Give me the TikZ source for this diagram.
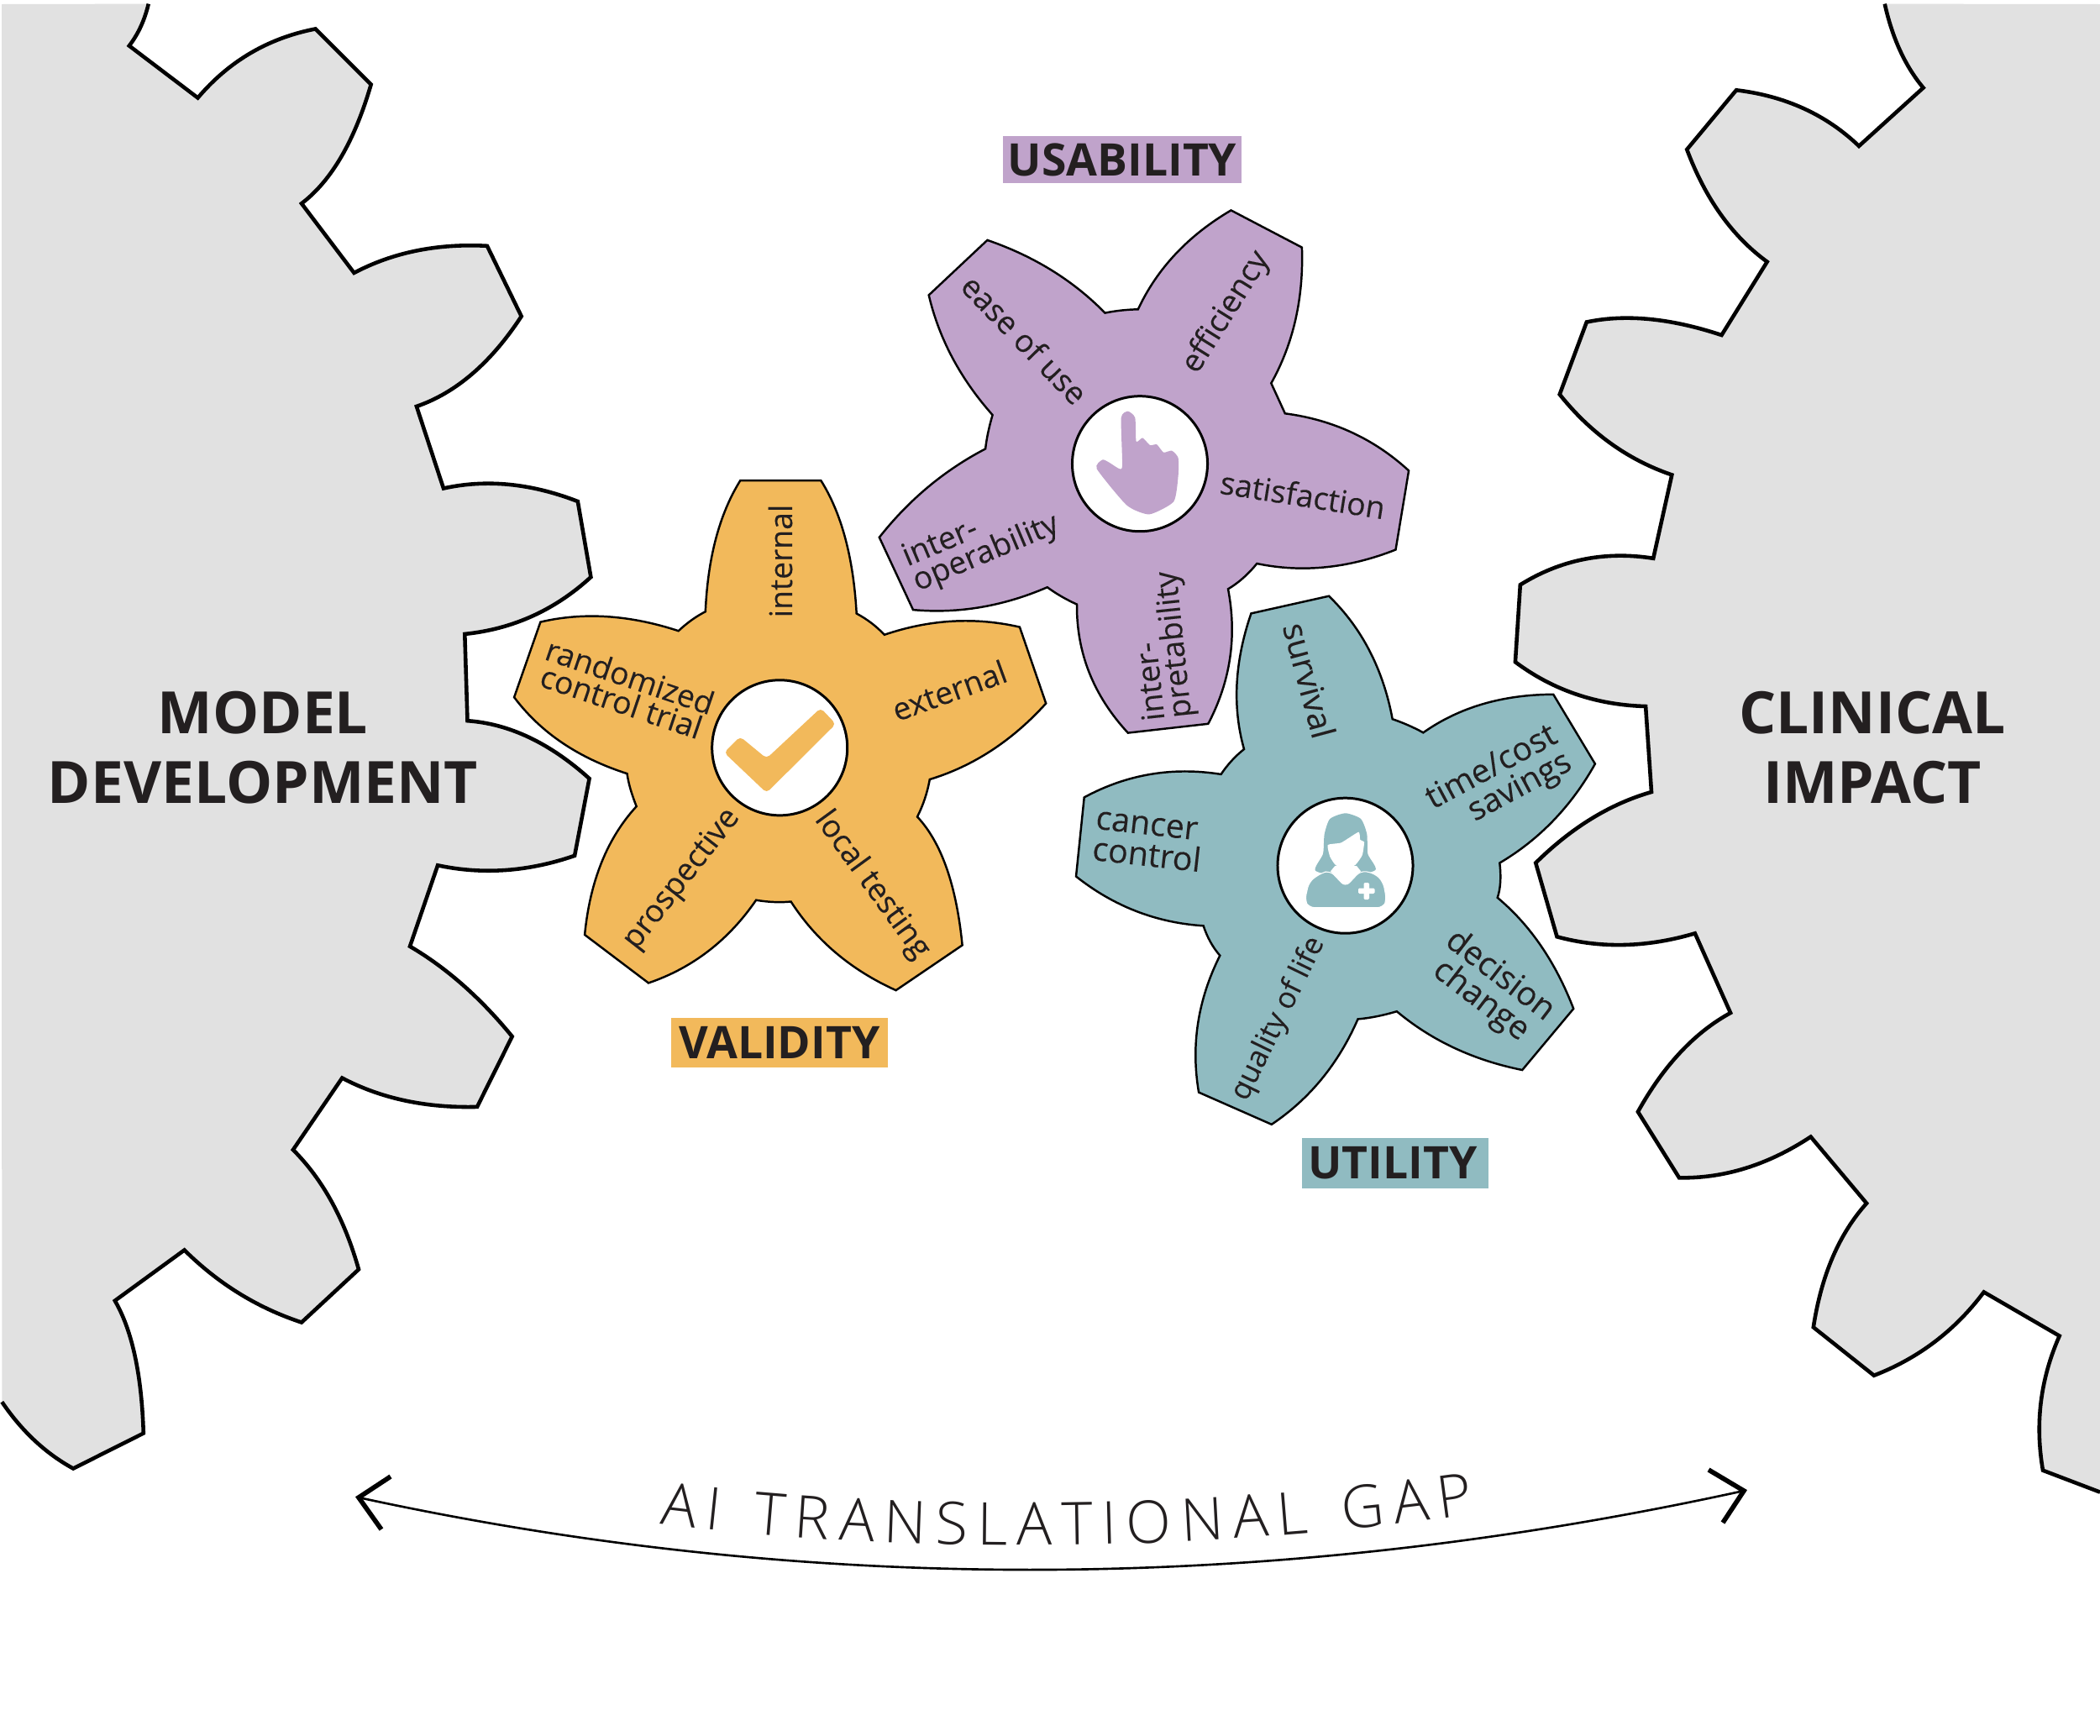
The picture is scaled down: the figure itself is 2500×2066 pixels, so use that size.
\documentclass[tikz,border=0pt]{standalone}
\usepackage{fontspec}
\setmainfont{Open Sans}
\newfontfamily\lightfont{Open Sans Light}
\newfontfamily\labfont{Open Sans}[FakeBold=0.12]
\usetikzlibrary{decorations.text,calc}
\definecolor{ink}{HTML}{231F20}
\definecolor{gearg}{HTML}{E1E1E1}
\definecolor{yel}{HTML}{F2B95B}
\definecolor{pur}{HTML}{C0A3CB}
\definecolor{tea}{HTML}{90BBC1}
\tikzset{
  vv/.style={to path={.. controls ($1.3333*(#1)-.3333*(\tikztotarget)$) and ($1.3333*(#1)-.3333*(\tikztostart)$) .. (\tikztotarget)}},
  bigline/.style={draw=black,line width=1.3pt,line join=miter,fill=none},
  smallgear/.style={draw=black,line width=.7pt,line join=miter},
  hub/.style={circle,draw=black,line width=.85pt,fill=white,minimum size=45.8pt,inner sep=0pt},
  lab/.style={text=ink,inner sep=0pt,align=center,font=\labfont\fontsize{10.6}{9.1}\selectfont},
  labl/.style={text=ink,inner sep=0pt,align=left,font=\labfont\fontsize{10.6}{9.1}\selectfont},
  tlab/.style={text=ink,inner sep=0pt,align=center,font=\labfont\fontsize{11.2}{10.6}\selectfont},
  tlabr/.style={text=ink,inner sep=0pt,align=right,font=\labfont\fontsize{11.1}{10.3}\selectfont},
  tag/.style={text=ink,inner sep=0pt,font=\bfseries\fontsize{15.2}{18}\selectfont},
  big/.style={text=ink,inner sep=0pt,align=center,font=\bfseries\fontsize{19.75}{23.6}\selectfont},
}
\begin{document}
\begin{tikzpicture}[x=0.01cm,y=-0.01cm]
\useasboundingbox (0,0) rectangle (2500,2066);
\fill[white] (0,0) rectangle (2500,2066);
% ---------- left big gear
\def\leftgear{(176.8,4.6) to[vv={167.6,31.6}] (153.8,54.5)
 -- (235.5,116.5) to[vv={298.4,63.1}] (375.6,34.4)
 -- (441.7,100.5) to[vv={406.3,186.6}] (359,242.3)
 -- (421.5,324.9) to[vv={495.9,298.5}] (579.9,292.8)
 -- (620.7,376.6) to[vv={562.4,444.9}] (495.9,483.9)
 -- (528,581.5) to[vv={606,576.9}] (687.8,597)
 -- (703.4,687.1) to[vv={633.6,733.6}] (553.3,754.9)
 -- (556.5,858.2) to[vv={630,878}] (701.6,927)
 -- (684.1,1018.8) to[vv={602,1036}] (521.1,1030.3)
 -- (488,1126.8) to[vv={551,1172.7}] (609.7,1234.1)
 -- (568,1317.9) to[vv={482,1310.4}] (407.3,1283.5)
 -- (348.9,1369) to[vv={394.9,1431}] (427,1511.4)
 -- (359,1574.5) to[vv={284.7,1540}] (219.5,1488.4)
 -- (136.8,1548.7) to[vv={160.7,1614.7}] (170.8,1706.5)
 -- (87.2,1748.5) to[vv={41.3,1715.2}] (2.3,1669.2)}
\fill[gearg] \leftgear -- (2,5) -- cycle;
\draw[bigline] \leftgear;
% ---------- right big gear
\def\rightgear{(2243.7,4.6) to[vv={2262,60.3}] (2289.6,104.5)
 -- (2213,173.9) to[vv={2147.3,129.2}] (2067,107.3)
 -- (2008.2,178) to[vv={2048.6,255.5}] (2103.7,311.7)
 -- (2049.5,399) to[vv={1963.7,380}] (1888.8,383.5)
 -- (1856.7,469.6) to[vv={1917.7,528.1}] (1990.3,565.4)
 -- (1968.2,664.8) to[vv={1885.6,665.9}] (1809.8,696.3)
 -- (1803.9,788.2) to[vv={1876.4,826.6}] (1959.1,841)
 -- (1966,943) to[vv={1894.8,974.6}] (1828.2,1027.4)
 -- (1853.5,1115.3) to[vv={1933.8,1125}] (2017.8,1111.3)
 -- (2060.1,1206) to[vv={2000.4,1253}] (1949.9,1323.7)
 -- (1999,1402.3) to[vv={2078.4,1390.8}] (2155.6,1353.5)
 -- (2222.1,1432.7) to[vv={2181.7,1497}] (2158.8,1580.3)
 -- (2230.9,1637.7) to[vv={2303.4,1597.5}] (2361.7,1538.4)
 -- (2451.7,1590.6) to[vv={2429.7,1669.2}] (2432,1750.7)
 -- (2500,1776.6)}
\fill[gearg] \rightgear -- (2500,5) -- cycle;
\draw[bigline] \rightgear;
% ---------- yellow gear
\draw[smallgear,fill=yel] (881.3,572.1) -- (977.3,572.1)
 to[vv={1006.3,641}] (1019.7,730.5)
 to[vv={1037.6,742}] (1052.8,755.8)
 to[vv={1133.6,739.7}] (1213.9,746.6)
 -- (1245.2,837.5) to[vv={1180.4,893.5}] (1106.8,928)
 to[vv={1101,950.9}] (1092,972.5)
 to[vv={1126.9,1033.6}] (1145.6,1125.4)
 -- (1066.6,1179.1) to[vv={995.2,1134.6}] (941.6,1073.5)
 to[vv={921.5,1074}] (900.1,1071.7)
 to[vv={843.4,1132.3}] (772,1170.4)
 -- (696.1,1113) to[vv={716.2,1026.7}] (757.7,960.1)
 to[vv={750.5,939.4}] (746.5,921.1)
 to[vv={669.3,884.4}] (612.1,830.2)
 -- (643.4,740.6) to[vv={722.9,734.2}] (807.7,751.2)
 to[vv={823.3,738.3}] (839.8,728.2)
 to[vv={852.3,641}] (881.3,572.1) -- cycle;
% ---------- purple gear
\draw[smallgear,fill=pur] (1465.5,250.4) -- (1549.9,294.6)
 to[vv={1542.3,380.4}] (1513.3,456.3)
 to[vv={1521.3,473.7}] (1529.8,492.3)
 to[vv={1609.3,514.9}] (1677.1,560.4)
 -- (1661.5,654.5) to[vv={1578,675.3}] (1496.3,671)
 to[vv={1479.8,688.3}] (1462,701.3)
 to[vv={1464.2,783.7}] (1438.3,861.8)
 -- (1342.8,872.6) to[vv={1296.8,801.1}] (1282,719.6)
 to[vv={1263.3,710}] (1246.8,699.2)
 to[vv={1167.3,723}] (1087,726.1)
 -- (1046.8,639.8) to[vv={1104.8,579.9}] (1173.1,534.4)
 to[vv={1176.3,514.9}] (1181.6,494.1)
 to[vv={1133.8,426}] (1105.7,351.4)
 -- (1175.4,285.9) to[vv={1252.1,321.9}] (1315.5,372.6)
 to[vv={1334.7,369.6}] (1354.8,368.3)
 to[vv={1399.5,302.4}] (1465.5,250.4) -- cycle;
% ---------- teal gear
\draw[smallgear,fill=tea] (1489.4,730.4) -- (1582,709.7)
 to[vv={1630.4,774.9}] (1657.7,856.2)
 to[vv={1676.7,863.6}] (1694.3,872.3)
 to[vv={1765.1,838.3}] (1849.2,826.8)
 -- (1898.9,909.5) to[vv={1849.2,977}] (1785.3,1027.5)
 to[vv={1786.1,1050.4}] (1782.7,1068.8)
 to[vv={1834.5,1126.2}] (1873.2,1201)
 -- (1812.2,1274) to[vv={1731.4,1247.8}] (1662.8,1204.2)
 to[vv={1638.8,1210.2}] (1616.5,1213.4)
 to[vv={1573.5,1284.6}] (1513.8,1338.8)
 -- (1427.1,1300.6) to[vv={1426.2,1218}] (1452.3,1137.7)
 to[vv={1441,1121.6}] (1432.6,1102.3)
 to[vv={1352.6,1084.9}] (1281,1043.5)
 -- (1290.7,949.4) to[vv={1369.4,921.9}] (1453.6,921.9)
 to[vv={1466.2,905.8}] (1481,892)
 to[vv={1472.5,814}] (1489.4,730.4) -- cycle;
% ---------- hubs
\node[hub] (hubv) at (928.2,890.3) {};
\node[hub] (hubu) at (1357,552.2) {};
\node[hub] (hubc) at (1601.5,1030.7) {};
% check mark
\fill[yel,rounded corners=1.4pt] (862,896) -- (881,877) -- (912.6,903) -- (977,843) -- (995,862) -- (912.6,944) -- cycle;
% hand
\fill[pur] plot[smooth cycle,tension=.35] coordinates {(1334.7,497.5)(1342.8,489.7)(1351.3,497.5)(1352.6,525.7)(1360.2,521.4)(1369.1,530.1)(1377.1,529.2)(1385.2,538.7)(1395,536.6)(1402.6,545.2)(1402.6,566.9)(1397.2,597.3)(1368.2,612.4)(1341.4,601.6)(1305.7,558.2)(1312.4,547.4)(1320,550.4)(1332.5,558.2)(1336.1,553.9)};
% doctor
\fill[tea] plot[smooth cycle,tension=.4] coordinates {(1601.7,968.3)(1583.3,975)(1576.7,993.3)(1575,1016.7)(1566,1036.7)(1601,1044)(1637.3,1036)(1628.3,1016.7)(1627.3,993.3)(1620,975)};
\fill[white] plot[smooth cycle,tension=.3] coordinates {(1580.7,1006)(1596.7,1003.3)(1617.3,990.7)(1619.3,1000)(1624,1002.7)(1621.7,1018.3)(1613.3,1030)(1601.7,1034)(1590,1030)(1583.3,1020)};
\fill[white] (1584,1037.3) -- (1589.3,1031) -- (1615,1031) -- (1620,1037.3) -- (1601.7,1056) -- cycle;
\fill[tea,draw=white,line width=.3pt,rounded corners=2pt] (1553.3,1072) -- (1558.3,1050) -- (1571.7,1040) -- (1583.3,1036.5) -- (1601.7,1056) -- (1620,1036.5) -- (1636.7,1040) -- (1646.7,1050) -- (1650.7,1072) -- (1646.7,1080.7) -- (1558,1080.7) -- cycle;
\fill[white,rounded corners=.4pt] (1623.5,1051) rectangle (1630,1071);
\fill[white,rounded corners=.4pt] (1617,1057.5) rectangle (1636.5,1064);
% ---------- yellow labels
\node[lab,rotate=90] (l1) at (929,668) {internal};
\node[lab,rotate=20] (l2) at (1130,822) {external};
\node[lab,rotate=-18.7] (l3) at (745,820) {randomized\\control trial};
\node[lab,rotate=52] (l4) at (812,1047) {prospective};
\node[lab,rotate=-54] (l5) at (1038,1054) {local testing};
% ---------- purple labels
\node[lab,rotate=58] (p1) at (1460,372) {efficiency};
\node[lab,rotate=-46] (p2) at (1220,404) {ease of use};
\node[lab,rotate=-9] (p3) at (1551,589) {satisfaction};
\node[labl,rotate=22.8] (p4) at (1168,645) {inter-\\operability};
\node[labl,rotate=96] (p5) at (1384,769) {inter-\\pretability};
% ---------- teal labels
\node[tlab,rotate=-75] (t1) at (1559,810) {survival};
\node[tlabr,rotate=28.3] (t2) at (1785,931) {time/cost\\savings};
\node[tlab,rotate=-37.4] (t3) at (1774,1177) {decision\\change};
\node[tlab,rotate=64,font=\labfont\fontsize{10}{10}\selectfont] (t4) at (1522,1213) {quality of life};
\node[tlab,rotate=-6.4,align=left] (t5) at (1367,1002) {cancer\\control};
% ---------- tags
\node[tag,fill=pur,minimum width=80.8pt,minimum height=16.2pt] (tagu) at (1336,190) {USABILITY};
\node[tag,fill=yel,minimum width=73.4pt,minimum height=16.8pt] (tagv) at (928,1241.5) {VALIDITY};
\node[tag,fill=tea,minimum width=63.2pt,minimum height=16.8pt] (tagc) at (1661,1385) {\kern-1.8pt UTILITY};
% ---------- big labels
\node[big] (model) at (313,890) {MODEL\\DEVELOPMENT};
\node[big] (clin) at (2229,890) {CLINICAL\\IMPACT};
% ---------- gap arrow
\coordinate (ltip) at (427,1783);
\coordinate (rtip) at (2076,1775);
\coordinate (lb1) at (465,1758);
\coordinate (lb2) at (454,1821);
\coordinate (rb1) at (2034,1750);
\coordinate (rb2) at (2051,1813);
\draw[black,line width=.75pt] (ltip) .. controls (966,1900) and (1515,1898) .. (rtip);
\draw[black,line width=1.6pt,line join=miter] (lb1) -- (ltip) -- (lb2);
\draw[black,line width=1.6pt,line join=miter] (rb1) -- (rtip) -- (rb2);
\coordinate (tl) at (785,1814);
\coordinate (tr) at (1755,1803);
\path[decorate,decoration={text along path,text align=fit to path,text color=ink,
  text={|\lightfont\fontsize{20}{24}\selectfont|AI TRANSLATIONAL GAP}}]
  (tl) .. controls (1085,1852) and (1435,1848) .. (tr);
\end{tikzpicture}
\end{document}
